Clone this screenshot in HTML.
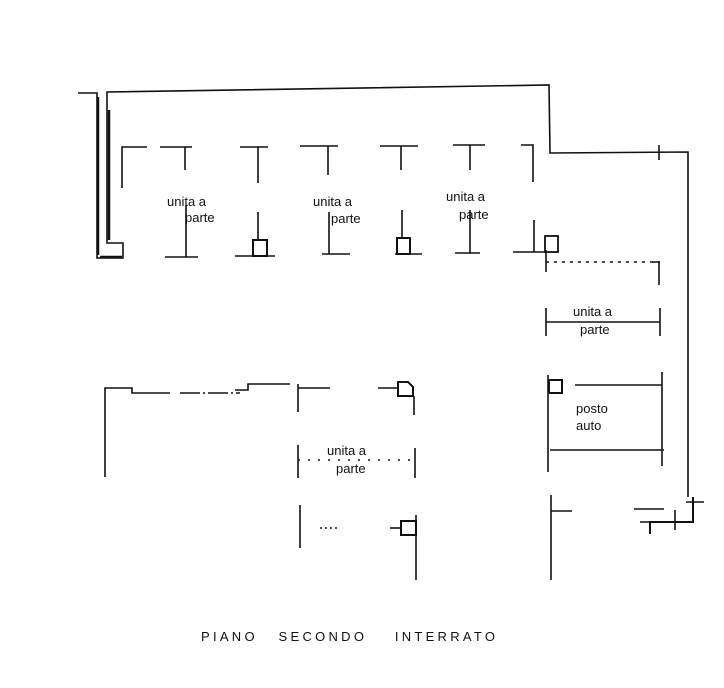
<!DOCTYPE html>
<html><head><style>
html,body{margin:0;padding:0;background:#fff;width:724px;height:688px;overflow:hidden}
svg{display:block}
text{font-family:"Liberation Sans",sans-serif;font-size:13px;fill:#111}
</style></head><body>
<svg width="724" height="688" viewBox="0 0 724 688" xmlns="http://www.w3.org/2000/svg">
<g stroke="#111" stroke-width="1.6" fill="none">
<polyline points="78,93 97,93 97,258 123,258 123,243 107,243 107,92 549,85 550,153 688,152 688,497"/>
<polyline stroke-width="2" points="693,497 693,522 650,522 650,534"/>
<line x1="686" y1="502" x2="704" y2="502"/>
<line x1="675" y1="510" x2="675" y2="530"/>
<line x1="640" y1="522" x2="660" y2="522"/>
<line x1="98" y1="97" x2="98" y2="255" stroke-width="2.5"/>
<line x1="109" y1="110" x2="109" y2="240" stroke-width="2.5"/>
<line x1="100" y1="257" x2="122" y2="257" stroke-width="2.5"/>
<polyline points="122,188 122,147 147,147"/>
<line x1="160" y1="147" x2="192" y2="147"/><line x1="185" y1="147" x2="185" y2="170"/>
<line x1="240" y1="147" x2="268" y2="147"/><line x1="258" y1="147" x2="258" y2="183"/>
<line x1="300" y1="146" x2="338" y2="146"/><line x1="328" y1="146" x2="328" y2="175"/>
<line x1="380" y1="146" x2="418" y2="146"/><line x1="401" y1="146" x2="401" y2="170"/>
<line x1="453" y1="145" x2="485" y2="145"/><line x1="470" y1="145" x2="470" y2="170"/>
<polyline points="521,145 533,145 533,182"/>
<line x1="659" y1="145" x2="659" y2="160"/>
<line x1="165" y1="257" x2="198" y2="257"/><line x1="186" y1="205" x2="186" y2="257"/>
<line x1="235" y1="256" x2="275" y2="256"/><rect x="253" y="240" width="14" height="16" stroke-width="2"/><line x1="258" y1="212" x2="258" y2="240"/>
<line x1="322" y1="254" x2="350" y2="254"/><line x1="329" y1="212" x2="329" y2="254"/>
<line x1="395" y1="254" x2="422" y2="254"/><rect x="397" y="238" width="13" height="16" stroke-width="2"/><line x1="402" y1="210" x2="402" y2="238"/>
<line x1="455" y1="253" x2="480" y2="253"/><line x1="470" y1="210" x2="470" y2="253"/>
<line x1="513" y1="252" x2="546" y2="252"/><line x1="534" y1="220" x2="534" y2="252"/>
<rect x="545" y="236" width="13" height="16" stroke-width="1.8"/>
<line x1="546" y1="250" x2="546" y2="272"/>
<line x1="546" y1="262" x2="660" y2="262" stroke-dasharray="3 5"/>
<polyline points="652,262 659,262 659,285"/>
<line x1="546" y1="308" x2="546" y2="336"/><line x1="546" y1="322" x2="660" y2="322"/><line x1="660" y1="308" x2="660" y2="336"/>
<line x1="548" y1="375" x2="548" y2="472"/>
<polyline points="549,393 549,380 562,380 562,393 549,393" stroke-width="2"/>
<line x1="575" y1="385" x2="662" y2="385"/>
<line x1="662" y1="372" x2="662" y2="466"/>
<line x1="550" y1="450" x2="664" y2="450"/>
<line x1="551" y1="495" x2="551" y2="580"/>
<line x1="551" y1="511" x2="572" y2="511"/>
<line x1="634" y1="509" x2="664" y2="509"/>
<polyline points="105,477 105,388 132,388 132,393 170,393"/>
<line x1="180" y1="393" x2="240" y2="393" stroke-dasharray="20 3 2 3"/>
<polyline points="235,390 248,390 248,384 290,384"/>
<line x1="298" y1="384" x2="298" y2="412"/>
<line x1="298" y1="388" x2="330" y2="388"/>
<line x1="378" y1="388" x2="398" y2="388"/>
<path d="M398,382 L408,382 L413,387 L413,396 L398,396 Z" stroke-width="2"/>
<line x1="414" y1="396" x2="414" y2="415"/>
<line x1="298" y1="445" x2="298" y2="478"/><line x1="298" y1="460" x2="415" y2="460" stroke-dasharray="2 8"/><line x1="415" y1="448" x2="415" y2="478"/>
<line x1="300" y1="505" x2="300" y2="548"/>
<line x1="320" y1="528" x2="340" y2="528" stroke-dasharray="2 3"/>
<line x1="390" y1="528" x2="400" y2="528"/>
<rect x="401" y="521" width="15" height="14" stroke-width="2"/>
<line x1="416" y1="515" x2="416" y2="580"/>
</g>
<text x="167" y="206">unita a</text><text x="185" y="222">parte</text>
<text x="313" y="206">unita  a</text><text x="331" y="223">parte</text>
<text x="446" y="201">unita a</text><text x="459" y="219">parte</text>
<text x="573" y="316">unita a</text><text x="580" y="334">parte</text>
<text x="576" y="413">posto</text><text x="576" y="430">auto</text>
<text x="327" y="455">unita  a</text><text x="336" y="473">parte</text>
<text x="201" y="641" textLength="294" lengthAdjust="spacing" style="font-size:13px">PIANO&#160;&#160;&#160;SECONDO&#160;&#160;&#160;&#160;INTERRATO</text>
</svg>
</body></html>
